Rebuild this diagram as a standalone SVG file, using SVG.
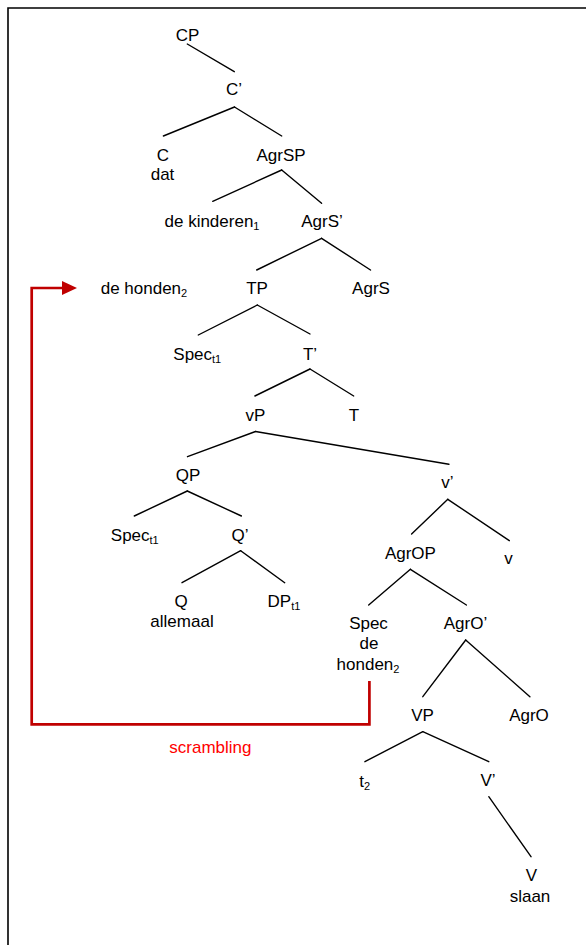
<svg xmlns="http://www.w3.org/2000/svg" width="586" height="945" viewBox="0 0 586 945">
  <style>
    text { font-family: "Liberation Sans", Arial, sans-serif; font-size: 17px; fill: #000; }
    .m { text-anchor: middle; }
    .sub { font-size: 11px; }
    .edge { stroke: #000; stroke-width: 1.4; fill: none; stroke-linecap: round; }
    .move { stroke: #c00000; stroke-width: 2.7; fill: none; }
    .label-red { fill: #ff0000; }
  </style>
  <defs>
    <marker id="arrowhead" viewBox="0 0 15 14" refX="0" refY="7" markerWidth="15" markerHeight="14" markerUnits="userSpaceOnUse" orient="auto">
      <polygon points="0,0 15,7 0,14" fill="#c00000"/>
    </marker>
  </defs>

  <rect width="586" height="945" fill="#fff"/>
  <!-- frame: top and left edges only -->
  <path d="M8,945 V8 H586" stroke="#000" stroke-width="1.6" fill="none"/>

  <!-- tree branches -->
  <g id="connectors">
    <line class="edge" x1="187.3" y1="44" x2="234.3" y2="71.7"/>
    <line class="edge" x1="234.5" y1="107" x2="163.4" y2="136"/>
    <line class="edge" x1="234.5" y1="107" x2="281.7" y2="136"/>
    <line class="edge" x1="281.7" y1="170" x2="212.7" y2="201.3"/>
    <line class="edge" x1="281.7" y1="170" x2="321.6" y2="203.3"/>
    <line class="edge" x1="321.6" y1="238.3" x2="256.7" y2="270"/>
    <line class="edge" x1="321.6" y1="238.3" x2="370.5" y2="270"/>
    <line class="edge" x1="257.3" y1="305" x2="198.3" y2="335"/>
    <line class="edge" x1="257.3" y1="305" x2="310" y2="334"/>
    <line class="edge" x1="310" y1="369" x2="254.9" y2="396"/>
    <line class="edge" x1="310" y1="369" x2="353.7" y2="396"/>
    <line class="edge" x1="255.5" y1="431.5" x2="187.5" y2="456.7"/>
    <line class="edge" x1="255.5" y1="431.5" x2="448.9" y2="464.3"/>
    <line class="edge" x1="187.3" y1="491" x2="134.3" y2="516"/>
    <line class="edge" x1="187.3" y1="491" x2="241.4" y2="516"/>
    <line class="edge" x1="240.7" y1="550.7" x2="182" y2="582.7"/>
    <line class="edge" x1="240.7" y1="550.7" x2="284.7" y2="582.7"/>
    <line class="edge" x1="447.8" y1="499.3" x2="411.6" y2="534"/>
    <line class="edge" x1="447.8" y1="499.3" x2="509.3" y2="540.7"/>
    <line class="edge" x1="410.4" y1="569.3" x2="368.7" y2="605"/>
    <line class="edge" x1="410.4" y1="569.3" x2="466.4" y2="605"/>
    <line class="edge" x1="465.7" y1="640" x2="422.8" y2="696.7"/>
    <line class="edge" x1="465.7" y1="640" x2="529.9" y2="696.7"/>
    <line class="edge" x1="422.8" y1="731.7" x2="364.9" y2="761.7"/>
    <line class="edge" x1="422.8" y1="731.7" x2="488.8" y2="761.7"/>
    <line class="edge" x1="488.8" y1="796.7" x2="531" y2="856.7"/>
    <!-- movement path -->
    <polyline class="move" points="369.4,681 369.4,724.3 31.7,724.3 31.7,288 62,288" marker-end="url(#arrowhead)"/>
  </g>

  <g id="CP"><text class="m" x="187.5" y="40.5">CP</text></g>
  <g id="C-bar"><text class="m" x="234" y="94.5">C’</text></g>
  <g id="C"><text class="m" x="163" y="160.5">C</text><text class="m" x="162.5" y="180">dat</text></g>
  <g id="AgrSP"><text class="m" x="281" y="160.5">AgrSP</text></g>
  <g id="de-kinderen"><text x="164.5" y="226.7">de kinderen<tspan class="sub" dy="3">1</tspan></text></g>
  <g id="AgrS-bar"><text class="m" x="322" y="226.7">AgrS’</text></g>
  <g id="de-honden"><text x="100.7" y="294.3">de honden<tspan class="sub" dy="3">2</tspan></text></g>
  <g id="TP"><text class="m" x="257" y="294.3">TP</text></g>
  <g id="AgrS"><text class="m" x="371" y="294.3">AgrS</text></g>
  <g id="Spec-T"><text x="173.3" y="360.3">Spec<tspan class="sub" dy="3">t1</tspan></text></g>
  <g id="T-bar"><text class="m" x="310" y="360.3">T’</text></g>
  <g id="vP"><text class="m" x="255.5" y="421">vP</text></g>
  <g id="T"><text class="m" x="354" y="421">T</text></g>
  <g id="QP"><text class="m" x="188" y="480.7">QP</text></g>
  <g id="v-bar"><text class="m" x="447.5" y="488.3">v’</text></g>
  <g id="Spec-Q"><text x="110.8" y="541">Spec<tspan class="sub" dy="3">t1</tspan></text></g>
  <g id="Q-bar"><text class="m" x="240" y="541">Q’</text></g>
  <g id="AgrOP"><text class="m" x="410.4" y="559.3">AgrOP</text></g>
  <g id="v"><text class="m" x="508.4" y="564">v</text></g>
  <g id="Q"><text class="m" x="181" y="606.7">Q</text><text class="m" x="182" y="626.7">allemaal</text></g>
  <g id="DP"><text x="267.5" y="606.7">DP<tspan class="sub" dy="3">t1</tspan></text></g>
  <g id="Spec-AgrO"><text class="m" x="368.5" y="629.3">Spec</text><text class="m" x="369" y="649.3">de</text><text x="336.6" y="670">honden<tspan class="sub" dy="3">2</tspan></text></g>
  <g id="AgrO-bar"><text class="m" x="465.5" y="629.3">AgrO’</text></g>
  <g id="VP"><text class="m" x="422.5" y="720.7">VP</text></g>
  <g id="AgrO"><text class="m" x="529" y="720.7">AgrO</text></g>
  <g id="scrambling"><text class="m label-red" x="210.4" y="752.7">scrambling</text></g>
  <g id="t2"><text x="359.3" y="787.3">t<tspan class="sub" dy="3">2</tspan></text></g>
  <g id="V-bar"><text class="m" x="488" y="786">V’</text></g>
  <g id="V"><text class="m" x="531.3" y="880.7">V</text><text class="m" x="530" y="901.7">slaan</text></g>
</svg>
